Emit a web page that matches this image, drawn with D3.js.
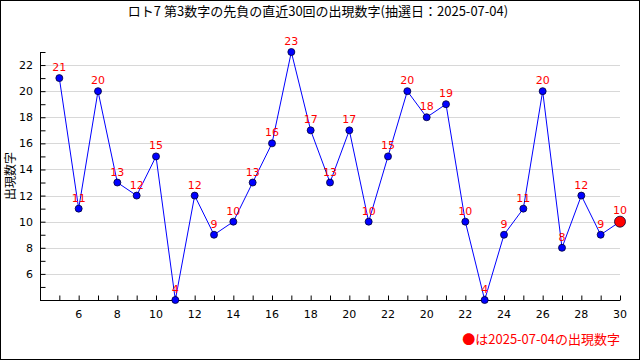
<!DOCTYPE html>
<html>
<head>
<meta charset="utf-8">
<script src="https://cdn.jsdelivr.net/npm/d3@7"></script>
<style>
  body { margin: 0; background: #fff; }
  svg { display: block; font-family: "DejaVu Sans", "Noto Sans CJK JP", sans-serif; }
</style>
</head>
<body>
<script>
// 直近30回の出現数字
const draws = d3.range(5, 35);
const values = [21, 11, 20, 13, 12, 15, 4, 12, 9, 10, 13, 16, 23, 17, 13, 17, 10, 15, 20, 18, 19, 10, 4, 9, 11, 20, 8, 12, 9, 10];
const xTickPos = [6, 8, 10, 12, 14, 16, 18, 20, 22, 24, 26, 28, 30, 32, 34];
const xTickLabels = ["6", "8", "10", "12", "14", "16", "18", "20", "22", "20", "22", "24", "26", "28", "30"];
const yTicks = [6, 8, 10, 12, 14, 16, 18, 20, 22];

const width = 640, height = 360;
const plotL = 40, plotR = 620, plotT = 52, plotB = 300;

const svg = d3.select("body").append("svg")
  .attr("width", width)
  .attr("height", height);

svg.append("rect")
  .attr("x", 0.5).attr("y", 0.5)
  .attr("width", width - 1).attr("height", height - 1)
  .attr("fill", "#fff").attr("stroke", "#000");

const x = d3.scaleLinear().domain([4, 34]).range([plotL, plotR]);
const y = d3.scaleLinear().domain([4, 23]).range([plotB, plotT]);

// grid
svg.append("g")
  .selectAll("line")
  .data(yTicks)
  .join("line")
  .attr("x1", plotL).attr("x2", plotR)
  .attr("y1", d => Math.round(y(d)) + 0.5).attr("y2", d => Math.round(y(d)) + 0.5)
  .attr("stroke", "#d8d8d8");

// x axis
const xAxis = svg.append("g")
  .attr("transform", `translate(0,${plotB + 0.5})`)
  .call(d3.axisBottom(x).tickValues(d3.range(5, 35)).tickSize(-5).tickFormat(""));
xAxis.select(".domain").attr("d", `M${plotL},0H${plotR}`);

svg.append("g")
  .selectAll("text")
  .data(xTickPos)
  .join("text")
  .attr("x", d => x(d))
  .attr("y", plotB + 18)
  .attr("text-anchor", "middle")
  .attr("font-size", 11)
  .text((d, i) => xTickLabels[i]);

// y axis
const yAxis = svg.append("g")
  .attr("transform", `translate(${plotL + 0.5},0)`)
  .call(d3.axisLeft(y).tickValues(d3.range(5, 24)).tickSize(-5).tickFormat(""));
yAxis.select(".domain").attr("d", `M0,${plotT}V${plotB}`);

svg.append("g")
  .selectAll("text")
  .data(yTicks)
  .join("text")
  .attr("x", 33)
  .attr("y", d => y(d) + 4)
  .attr("text-anchor", "end")
  .attr("font-size", 11)
  .text(d => d);

// title
svg.append("text")
  .attr("x", 318).attr("y", 16)
  .attr("text-anchor", "middle")
  .attr("font-size", 13)
  .attr("font-family", "Noto Sans CJK JP")
  .text("ロト7 第3数字の先負の直近30回の出現数字(抽選日：2025-07-04)");

svg.append("text")
  .attr("transform", `translate(15,${(plotT + plotB) / 2}) rotate(-90)`)
  .attr("text-anchor", "middle")
  .attr("font-size", 12)
  .attr("font-family", "Noto Sans CJK JP")
  .text("出現数字");

// line
const line = d3.line().x((d, i) => x(draws[i])).y(d => y(d));
svg.append("path")
  .datum(values)
  .attr("d", line)
  .attr("fill", "none")
  .attr("stroke", "#0000ff")
  .attr("stroke-width", 1);

const last = values.length - 1;
svg.append("g")
  .selectAll("circle")
  .data(values)
  .join("circle")
  .attr("cx", (d, i) => x(draws[i]))
  .attr("cy", d => y(d))
  .attr("r", (d, i) => i === last ? 5.5 : 3.5)
  .attr("fill", (d, i) => i === last ? "#ff0000" : "#0000ff")
  .attr("stroke", "#000033")
  .attr("stroke-width", 0.8);

svg.append("g")
  .selectAll("text")
  .data(values)
  .join("text")
  .attr("x", (d, i) => x(draws[i]))
  .attr("y", (d, i) => y(d) - (i === last ? 8 : 7))
  .attr("text-anchor", "middle")
  .attr("font-size", 11)
  .attr("fill", "#ff0000")
  .text(d => d);

// legend
svg.append("text")
  .attr("x", 620).attr("y", 344)
  .attr("text-anchor", "end")
  .attr("font-size", 13)
  .attr("font-family", "Noto Sans CJK JP")
  .attr("fill", "#ff0000")
  .text("●は2025-07-04の出現数字");
</script>
</body>
</html>
